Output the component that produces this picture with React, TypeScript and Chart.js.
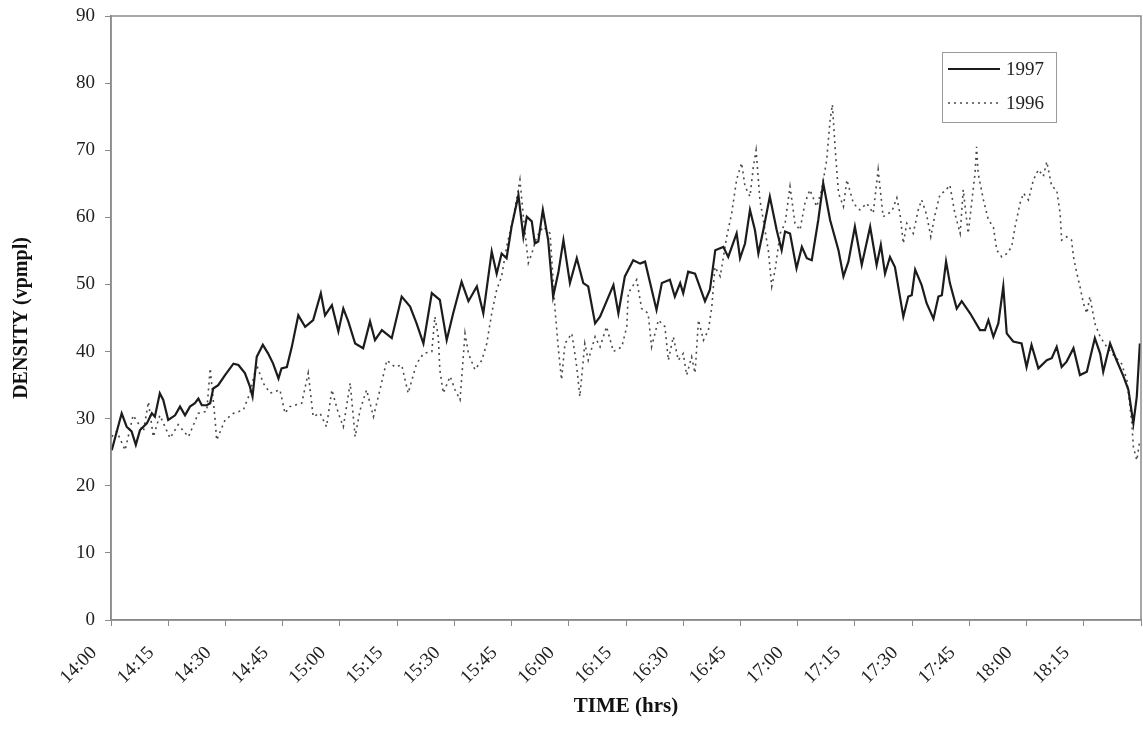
import React, { useEffect, useRef } from 'react';
import { Chart, registerables } from 'chart.js';

Chart.register(...registerables);

// x tick labels (every 15 minutes from 14:00)
const tickLabels = [
  '14:00', '14:15', '14:30', '14:45', '15:00', '15:15', '15:30', '15:45', '16:00',
  '16:15', '16:30', '16:45', '17:00', '17:15', '17:30', '17:45', '18:00', '18:15',
];

const seriesNames = ['1997', '1996'];

// minutes after 14:00
const minutes1997 = [
  0.2, 2.8, 4.1, 5.4, 6.5, 7.6, 9.4, 10.7, 11.5, 12.8, 13.7, 15.0, 16.8, 18.1, 19.4, 20.7,
  22.0, 22.9, 23.8, 25.1, 26.0, 26.8, 28.1, 29.9, 32.1, 33.4, 35.1, 36.4, 37.1, 38.2, 39.8,
  41.2, 42.5, 43.9, 44.7, 46.1, 47.4, 49.1, 50.9, 53.0, 55.0, 56.1, 57.9, 59.6, 60.9, 62.2,
  64.0, 66.1, 67.9, 69.2, 71.0, 73.6, 76.2, 78.4, 80.1, 81.9, 84.1, 86.2, 88.0, 89.7, 91.9,
  93.7, 95.9, 97.6, 99.8, 101.1, 102.4, 103.7, 105.0, 106.8, 108.1, 109.0, 110.3, 111.1,
  112.0, 113.2, 114.6, 115.9, 117.3, 118.6, 120.3, 122.1, 123.8, 125.1, 126.9, 128.2, 131.7,
  133.0, 134.7, 136.9, 138.7, 140.0, 143.0, 144.4, 146.5, 147.8, 149.2, 150.0, 151.3, 153.1,
  155.7, 157.0, 158.4, 160.5, 161.8, 164.0, 164.9, 166.2, 167.5, 168.8, 169.7, 171.0, 172.7,
  174.5, 175.8, 176.7, 178.0, 179.7, 181.1, 182.4, 183.7, 185.4, 186.7, 188.5, 190.7, 192.0,
  193.3, 195.0, 196.8, 199.0, 200.7, 201.8, 202.9, 204.2, 205.5, 207.7, 209.0, 209.9, 210.8,
  212.5, 213.8, 215.6, 216.9, 217.8, 218.9, 219.9, 221.7, 223.0, 225.2, 227.8, 229.1, 230.0,
  231.3, 232.6, 233.9, 234.8, 236.5, 238.7, 240.0, 241.3, 243.1, 245.3, 246.6, 247.9, 249.2,
  250.5, 252.3, 254.0, 255.8, 257.9, 259.3, 260.1, 261.9, 263.6, 265.4, 266.7, 268.0, 268.9,
  269.7,
];
const density1997 = [
  25.3, 30.8, 28.8, 28.1, 26.1, 28.3, 29.3, 30.8, 30.3, 33.8, 32.8, 29.8, 30.5, 31.8, 30.5, 31.8,
  32.3, 33.0, 32.0, 32.0, 32.3, 34.5, 35.0, 36.5, 38.2, 38.0, 36.8, 34.8, 33.3, 39.2, 41.0,
  39.7, 38.2, 36.0, 37.5, 37.7, 40.7, 45.4, 43.7, 44.7, 48.7, 45.4, 46.9, 43.0, 46.4, 44.5,
  41.2, 40.5, 44.5, 41.7, 43.2, 42.0, 48.2, 46.7, 44.2, 41.2, 48.7, 47.7, 41.7, 45.7, 50.4,
  47.5, 49.7, 45.7, 54.9, 51.6, 54.6, 53.9, 58.6, 63.3, 57.1, 60.1, 59.4, 56.1,
  56.4, 61.1, 56.6, 48.2, 51.9, 56.6, 50.2, 53.9, 50.2, 49.7, 44.2, 45.2, 49.9,
  45.7, 51.2, 53.6, 53.1, 53.4, 46.2, 50.2, 50.7, 48.2, 50.2, 48.7, 51.9, 51.6,
  47.5, 49.2, 55.1, 55.6, 54.1, 57.6, 53.9, 56.1, 61.1, 58.1, 54.6, 58.1, 63.1,
  58.1, 55.1, 57.9, 57.6, 52.4, 55.6, 53.9, 53.6, 59.6, 65.1, 59.6, 55.1, 51.2,
  53.4, 58.6, 52.9, 58.6, 52.9, 55.9, 51.6, 54.1, 52.6, 45.2, 48.2, 48.4, 52.2,
  49.9, 47.2, 44.9, 48.2, 48.4, 53.4, 50.2, 46.4, 47.5, 45.7, 43.2, 43.2, 44.7,
  42.2, 44.2, 49.7, 42.7, 41.5, 41.2, 37.7, 41.0, 37.5, 38.7, 39.0, 40.7, 37.7,
  38.5, 40.5, 36.5, 37.0, 42.0, 39.7, 37.0, 41.2, 38.7, 36.3, 34.3, 29.3, 33.3,
  41.2,
];

const minutes1996 = [
  0.2, 1.5, 3.7, 5.8, 8.5, 9.8, 11.1, 12.8, 15.5, 17.6, 20.3, 22.9, 25.1, 26.0, 27.3, 27.7,
  29.9, 32.1, 34.7, 36.4, 38.2, 39.9, 41.7, 44.3, 45.6, 46.9, 50.0, 51.7, 53.0, 54.8, 56.5,
  57.9, 59.6, 60.9, 62.7, 64.0, 65.3, 67.0, 68.8, 70.5, 72.3, 74.4, 76.2, 77.9, 80.1, 81.9,
  84.1, 84.9, 85.8, 86.2, 87.1, 88.9, 90.2, 91.5, 92.8, 93.7, 95.4, 97.2, 98.5, 99.8, 101.1,
  102.4, 103.7, 105.5, 107.2, 108.1, 109.4, 110.3, 111.6, 113.3, 115.1, 116.4, 117.3, 118.1,
  119.0, 120.8, 122.1, 122.9, 124.2, 125.1, 126.9, 128.2, 129.9, 131.7, 133.9, 135.2, 135.6,
  137.8, 139.1, 140.8, 141.7, 143.5, 145.2, 146.1, 147.4, 148.7, 150.0, 150.9, 152.2, 153.1,
  154.0, 155.3, 156.6, 157.5, 158.3, 159.7, 161.4, 162.7, 164.0, 165.3, 166.2, 167.5, 168.4,
  169.1, 170.1, 171.0, 172.3, 173.2, 174.1, 175.4, 176.7, 178.0, 179.3, 180.6, 181.9, 183.2,
  185.0, 186.3, 187.6, 188.5, 189.1, 189.8, 190.7, 192.0, 192.9, 194.6, 196.3, 198.1, 199.8,
  201.1, 202.4, 204.7, 206.0, 206.8, 207.7, 208.6, 210.3, 211.6, 212.5, 213.8, 214.9, 216.0,
  217.3, 218.6, 219.9, 221.2, 222.6, 223.4, 224.7, 225.6, 226.5, 226.9, 227.3, 228.7, 230.0,
  231.3, 232.2, 233.5, 234.8, 236.1, 237.0, 238.3, 239.2, 240.5, 241.8, 243.1, 244.4, 245.3,
  246.6, 247.9, 248.8, 249.2, 250.5, 251.8, 252.3, 253.2, 254.0, 254.9, 255.8, 256.6, 257.9,
  259.3, 261.0, 263.2, 264.9, 266.3, 267.6, 268.0, 268.9, 269.7,
];
const density1996 = [
  27.3, 28.1, 25.3, 30.5, 28.1, 32.5, 27.3, 30.5, 27.1, 29.1, 27.3, 30.8, 31.1, 37.5, 29.8, 26.8,
  29.8, 30.8, 31.3, 33.8, 38.0, 35.3, 33.8, 34.3, 30.8, 31.8, 32.3, 36.8, 30.3, 30.8, 28.8,
  34.3, 30.8, 28.8, 35.3, 27.3, 31.3, 34.3, 30.3, 34.3, 38.7, 37.7, 38.0, 33.8, 38.2, 39.7,
  40.0, 45.2, 42.2, 37.3, 33.8, 36.3, 34.3, 32.8, 42.7, 39.7, 37.3, 38.7, 41.2, 45.7, 49.2,
  51.2, 55.6, 60.1, 65.6, 60.1, 53.2, 54.6, 57.1, 58.6, 57.6, 46.2, 40.2, 35.8,
  41.2, 42.7, 37.7, 33.3, 41.2, 38.7, 42.2, 40.7, 43.7, 40.0, 40.7, 43.7, 48.7,
  50.7, 46.4, 45.7, 40.7, 44.7, 43.7, 38.7, 42.2, 38.7, 39.7, 36.5, 39.2, 36.8,
  44.7, 41.7, 43.2, 46.7, 52.6, 51.2, 57.1, 60.6, 65.6, 68.1, 64.6, 63.1, 67.6,
  70.0, 62.6, 59.6, 55.1, 49.7, 52.2, 57.6, 59.1, 64.6, 59.1, 58.1, 62.1, 64.1,
  61.6, 64.1, 68.5, 74.5, 76.8, 70.5, 63.6, 61.6, 65.6, 62.1, 61.1, 62.1, 60.6,
  67.1, 60.1, 60.9, 62.9, 60.6, 56.1, 59.1, 57.6, 61.1, 62.6, 60.4, 57.1, 60.4,
  63.4, 63.9, 64.8, 60.6, 57.6, 64.1, 57.6, 62.1, 66.6, 70.5, 66.6, 62.6, 59.6,
  58.6, 55.1, 54.1, 54.6, 55.6, 58.6, 62.1, 63.6, 62.6, 65.6, 67.1, 66.1, 68.3,
  64.6, 64.1, 60.6, 56.6, 57.1, 56.6, 54.1, 51.6, 49.7, 47.2, 45.7, 48.2, 44.2,
  42.2, 40.7, 39.2, 38.2, 35.8, 29.3, 25.8, 23.8, 26.8,
];

const SERIF = "'Liberation Serif', 'Times New Roman', serif";

const toPoints = (xs: number[], ys: number[]) => xs.map((x, i) => ({ x, y: ys[i] }));

const framePlugin = {
  id: 'frame',
  afterDatasetsDraw(chart: any) {
    const { ctx, chartArea } = chart;
    ctx.save();
    ctx.strokeStyle = '#8a8a8a';
    ctx.lineWidth = 1.5;
    ctx.strokeRect(chartArea.left, chartArea.top, chartArea.right - chartArea.left, chartArea.bottom - chartArea.top);
    ctx.restore();
  },
};

const boxLegendPlugin = {
  id: 'boxLegend',
  afterDraw(chart: any) {
    const { ctx, chartArea } = chart;
    const x = chartArea.right - 199;
    const y = chartArea.top + 36;
    const w = 114;
    const h = 70;
    ctx.save();
    ctx.fillStyle = '#ffffff';
    ctx.fillRect(x, y, w, h);
    ctx.strokeStyle = '#9a9a9a';
    ctx.lineWidth = 1;
    ctx.strokeRect(x + 0.5, y + 0.5, w, h);
    chart.data.datasets.forEach((ds: any, i: number) => {
      const ly = y + 17 + i * 34;
      ctx.beginPath();
      ctx.strokeStyle = ds.borderColor;
      ctx.lineWidth = ds.borderWidth;
      ctx.setLineDash(ds.borderDash || []);
      ctx.moveTo(x + 6, ly);
      ctx.lineTo(x + 58, ly);
      ctx.stroke();
      ctx.setLineDash([]);
      ctx.fillStyle = '#222';
      ctx.font = `19px ${SERIF}`;
      ctx.textBaseline = 'middle';
      ctx.textAlign = 'left';
      ctx.fillText(ds.label, x + 64, ly + 1);
    });
    ctx.restore();
  },
};

export default function App() {
  const canvasRef = useRef<HTMLCanvasElement | null>(null);

  useEffect(() => {
    if (!canvasRef.current) return;
    const chart = new Chart(canvasRef.current, {
      type: 'line',
      data: {
        datasets: [
          {
            label: seriesNames[0],
            data: toPoints(minutes1997, density1997),
            borderColor: '#1c1c1c',
            borderWidth: 2.2,
            pointRadius: 0,
            tension: 0,
            fill: false,
          },
          {
            label: seriesNames[1],
            data: toPoints(minutes1996, density1996),
            borderColor: '#4a4a4a',
            borderWidth: 1.6,
            borderDash: [2, 4],
            pointRadius: 0,
            tension: 0,
            fill: false,
          },
        ],
      },
      options: {
        animation: false,
        responsive: false,
        layout: { padding: { top: 16, right: 2, left: 0, bottom: 0 } },
        plugins: {
          legend: { display: false },
          tooltip: { enabled: false },
        },
        scales: {
          x: {
            type: 'linear',
            min: 0,
            max: 270,
            afterFit: (scale: any) => {
              scale.height = 124;
              scale.paddingLeft = 0;
              scale.paddingRight = 0;
            },
            grid: {
              display: true,
              drawOnChartArea: false,
              drawTicks: true,
              tickLength: 6,
              tickColor: '#8a8a8a',
            },
            border: { display: true, color: '#8a8a8a', width: 1.5 },
            ticks: {
              stepSize: 15,
              autoSkip: false,
              minRotation: 45,
              maxRotation: 45,
              padding: 16,
              labelOffset: -17,
              color: '#222',
              font: { family: SERIF, size: 19 },
              callback: (value: any) => {
                const idx = Math.round(Number(value) / 15);
                return tickLabels[idx] ?? '';
              },
            },
            title: {
              display: true,
              text: 'TIME (hrs)',
              color: '#111',
              font: { family: SERIF, size: 21, weight: 'bold' },
              padding: { top: 0, bottom: 25 },
            },
          },
          y: {
            min: 0,
            max: 90,
            afterFit: (scale: any) => {
              scale.width = 111;
              scale.paddingTop = 0;
              scale.paddingBottom = 0;
            },
            grid: {
              display: true,
              drawOnChartArea: false,
              drawTicks: true,
              tickLength: 6,
              tickColor: '#8a8a8a',
            },
            border: { display: true, color: '#8a8a8a', width: 1.5 },
            ticks: {
              stepSize: 10,
              padding: 10,
              color: '#222',
              font: { family: SERIF, size: 19 },
            },
            title: {
              display: true,
              text: 'DENSITY (vpmpl)',
              color: '#111',
              font: { family: SERIF, size: 20, weight: 'bold' },
              padding: { top: 10, bottom: 0 },
            },
          },
        },
      },
      plugins: [framePlugin, boxLegendPlugin],
    } as any);
    return () => chart.destroy();
  }, []);

  return (
    <div style={{ position: 'fixed', left: 0, top: 0, width: 1143, height: 744, background: '#fff' }}>
      <canvas ref={canvasRef} width={1143} height={744} style={{ display: 'block', width: 1143, height: 744 }} />
    </div>
  );
}
